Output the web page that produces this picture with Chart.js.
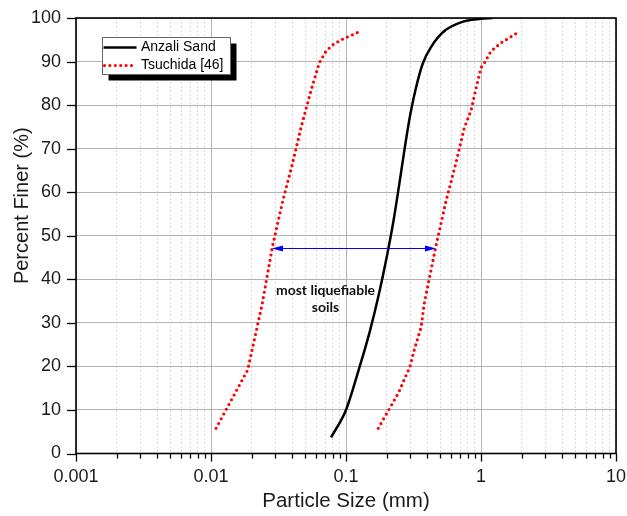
<!DOCTYPE html>
<html>
<head>
<meta charset="utf-8">
<script src="https://cdn.jsdelivr.net/npm/chart.js@4/dist/chart.umd.min.js"></script>
<style>
  html, body { margin: 0; padding: 0; background: #ffffff; }
  #wrap { width: 627px; height: 516px; position: relative; }
</style>
</head>
<body>
<div id="wrap"><canvas id="c" width="627" height="516"></canvas></div>
<script>
// ---------------- data ----------------
const anzaliSize  = [0.0775, 0.1, 0.125, 0.15, 0.175, 0.2, 0.225, 0.25, 0.275, 0.3, 0.33, 0.37, 0.43, 0.535, 0.71, 1.0, 1.22];
const anzaliFiner = [3.7, 10, 19.5, 28, 36.5, 45, 53.5, 62.5, 71, 78, 84, 89.5, 93.5, 97, 99, 99.8, 100];

const tsuchidaLowSize  = [0.0109, 0.0187, 0.0239, 0.0286, 0.034, 0.0403, 0.0464, 0.055, 0.0634, 0.0712, 0.0816, 0.0966, 0.129];
const tsuchidaLowFiner = [5.8, 19.2, 34.2, 47.7, 58, 66.8, 74.8, 83.3, 89.7, 92.4, 94.1, 95.3, 97];

const tsuchidaHighSize  = [0.1734, 0.2455, 0.298, 0.319, 0.36, 0.38, 0.464, 0.551, 0.653, 0.752, 0.843, 0.91, 1.0, 1.06, 1.186, 1.41, 1.95];
const tsuchidaHighFiner = [5.8, 14, 20, 23.6, 29, 34.5, 47.7, 58, 66.8, 74.8, 78.7, 83.3, 88.6, 89.7, 92.4, 94.3, 97];

const seriesLabels = ['Anzali Sand', 'Tsuchida [46]'];

// double arrow "most liquefiable soils"
const arrowSizes = [0.0283, 0.464];
const arrowFiner = 47.3;
const noteLines  = ['most liquefiable', 'soils'];
const noteSize   = 0.0705;
const noteFiner  = [37.4, 33.6];

// axes
const xDecades      = [0.001, 0.01, 0.1, 1, 10];
const xDecadeLabels = ['0.001', '0.01', '0.1', '1', '10'];
const xMinorSteps   = [2, 3, 4, 5, 6, 7, 8, 9];
const yTickValues   = [0, 10, 20, 30, 40, 50, 60, 70, 80, 90, 100];
const xTitle = 'Particle Size (mm)';
const yTitle = 'Percent Finer (%)';

// ---------------- helpers ----------------
const toPts = (xs, ys) => xs.map((v, i) => ({ x: v, y: ys[i] }));
const xTickValues = [];
xDecades.forEach((d, i) => {
  xTickValues.push(d);
  if (i < xDecades.length - 1) xMinorSteps.forEach(m => xTickValues.push(m * d));
});
const isDecade = v => Math.abs(Math.log10(v) - Math.round(Math.log10(v))) < 1e-9;
const decadeLabel = v => {
  const i = xDecades.findIndex(d => Math.abs(Math.log10(d) - Math.log10(v)) < 1e-9);
  return i >= 0 ? xDecadeLabels[i] : '';
};

const FONT = 'Arial, "Liberation Sans", sans-serif';

const overlay = {
  id: 'overlay',
  afterDatasetsDraw(chart) {
    const { ctx, chartArea: a, scales: { x, y } } = chart;
    ctx.save();
    // arrow
    const ay = Math.round(y.getPixelForValue(arrowFiner)) + 0.5;
    const x1 = x.getPixelForValue(arrowSizes[0]);
    const x2 = x.getPixelForValue(arrowSizes[1]);
    const hl = 11, hw = 3;
    ctx.strokeStyle = '#0000ff';
    ctx.fillStyle = '#0000ff';
    ctx.lineWidth = 1;
    ctx.beginPath(); ctx.moveTo(x1 + 4, ay); ctx.lineTo(x2 - 4, ay); ctx.stroke();
    ctx.beginPath(); ctx.moveTo(x1, ay); ctx.lineTo(x1 + hl, ay - hw); ctx.lineTo(x1 + hl, ay + hw); ctx.closePath(); ctx.fill();
    ctx.beginPath(); ctx.moveTo(x2, ay); ctx.lineTo(x2 - hl, ay - hw); ctx.lineTo(x2 - hl, ay + hw); ctx.closePath(); ctx.fill();
    // note
    ctx.fillStyle = '#111';
    ctx.font = 'bold 14px Lato, "Liberation Sans", sans-serif';
    ctx.textAlign = 'center';
    ctx.textBaseline = 'middle';
    noteLines.forEach((t, i) => ctx.fillText(t, x.getPixelForValue(noteSize), y.getPixelForValue(noteFiner[i])));
    // frame
    ctx.strokeStyle = '#000';
    ctx.lineWidth = 1.6;
    ctx.strokeRect(a.left, a.top, a.right - a.left, a.bottom - a.top);
    // x ticks
    ctx.lineWidth = 1.3;
    xTickValues.forEach(v => {
      const px = Math.round(x.getPixelForValue(v)) + 0.5;
      const len = isDecade(v) ? 8 : 5;
      ctx.beginPath(); ctx.moveTo(px, a.bottom); ctx.lineTo(px, a.bottom + len); ctx.stroke();
    });
    // y ticks
    yTickValues.forEach(v => {
      const py = Math.round(y.getPixelForValue(v)) + 0.5;
      ctx.beginPath(); ctx.moveTo(a.left - 9, py); ctx.lineTo(a.left, py); ctx.stroke();
    });
    // y axis title
    ctx.fillStyle = '#1a1a1a';
    ctx.font = '20px ' + FONT;
    ctx.textAlign = 'center';
    ctx.textBaseline = 'middle';
    ctx.translate(22, (a.top + a.bottom) / 2 - 30);
    ctx.rotate(-Math.PI / 2);
    ctx.fillText(yTitle, 0, 0);
    ctx.restore();
  },
  afterDraw(chart) {
    const { ctx, chartArea: a } = chart;
    ctx.save();
    const bx = a.left + 26.5, by = a.top + 19.5, bw = 128, bh = 37;
    ctx.fillStyle = '#000';
    ctx.fillRect(bx + 6, by + 6, bw, bh);
    ctx.fillStyle = '#fff';
    ctx.fillRect(bx, by, bw, bh);
    ctx.strokeStyle = '#666';
    ctx.lineWidth = 1;
    ctx.strokeRect(bx, by, bw, bh);
    const ds = chart.data.datasets;
    const rows = [by + 10, by + 28];
    ctx.strokeStyle = ds[0].borderColor;
    ctx.lineWidth = ds[0].borderWidth;
    ctx.beginPath(); ctx.moveTo(bx + 1, rows[0]); ctx.lineTo(bx + 34, rows[0]); ctx.stroke();
    ctx.strokeStyle = ds[1].borderColor;
    ctx.lineWidth = ds[1].borderWidth;
    ctx.lineCap = 'round';
    ctx.setLineDash(ds[1].borderDash);
    ctx.beginPath(); ctx.moveTo(bx + 2, rows[1]); ctx.lineTo(bx + 34, rows[1]); ctx.stroke();
    ctx.setLineDash([]);
    ctx.fillStyle = '#000';
    ctx.font = '14px ' + FONT;
    ctx.textAlign = 'left';
    ctx.textBaseline = 'middle';
    ctx.fillText(seriesLabels[0], bx + 38.5, rows[0]);
    ctx.fillText(seriesLabels[1], bx + 38.5, rows[1]);
    ctx.restore();
  }
};

const redLine = {
  borderColor: '#ff0000',
  borderWidth: 3.2,
  borderDash: [0, 5.4],
  borderCapStyle: 'round',
  pointRadius: 0,
  tension: 0,
  fill: false
};

new Chart(document.getElementById('c'), {
  type: 'line',
  data: {
    datasets: [
      { label: seriesLabels[0], data: toPts(anzaliSize, anzaliFiner), borderColor: '#000000', borderWidth: 2.5,
        pointRadius: 0, cubicInterpolationMode: 'monotone', fill: false },
      Object.assign({ label: seriesLabels[1], data: toPts(tsuchidaLowSize, tsuchidaLowFiner) }, redLine),
      Object.assign({ label: seriesLabels[1], data: toPts(tsuchidaHighSize, tsuchidaHighFiner) }, redLine)
    ]
  },
  options: {
    responsive: false,
    animation: false,
    devicePixelRatio: 1,
    layout: { padding: { top: 18, right: 11, left: 0, bottom: 0 } },
    plugins: { legend: { display: false }, tooltip: { enabled: false } },
    scales: {
      x: {
        type: 'logarithmic',
        min: 0.001, max: 10,
        afterBuildTicks: s => { s.ticks = xTickValues.map(v => ({ value: v, major: isDecade(v) })); },
        afterFit: s => { s.height = 62.5; s.paddingLeft = 0; s.paddingRight = 0; s.paddingTop = 0; s.paddingBottom = 0; },
        ticks: {
          autoSkip: false, maxRotation: 0, minRotation: 0,
          padding: 13,
          color: '#1a1a1a',
          font: { family: FONT, size: 18 },
          callback: v => decadeLabel(v)
        },
        grid: {
          drawTicks: false,
          color: c => (c.tick && isDecade(c.tick.value)) ? '#b3b3b3' : '#d9d9d9',
          lineWidth: 1
        },
        border: { display: false, dash: c => (c.tick && isDecade(c.tick.value)) ? [] : [2, 2] },
        title: { display: true, text: xTitle, color: '#1a1a1a', font: { family: FONT, size: 20.5 }, padding: { top: 0, bottom: 2.7 } }
      },
      y: {
        min: 0, max: 100,
        afterBuildTicks: s => { s.ticks = yTickValues.map(v => ({ value: v })); },
        afterFit: s => { s.width = 76; s.paddingLeft = 0; s.paddingRight = 0; s.paddingTop = 0; s.paddingBottom = 0; },
        ticks: {
          padding: 15,
          color: '#1a1a1a',
          font: { family: FONT, size: 18 }
        },
        grid: { drawTicks: false, color: '#b3b3b3', lineWidth: 1 },
        border: { display: false },
        title: { display: false }
      }
    }
  },
  plugins: [overlay]
});
</script>
</body>
</html>
